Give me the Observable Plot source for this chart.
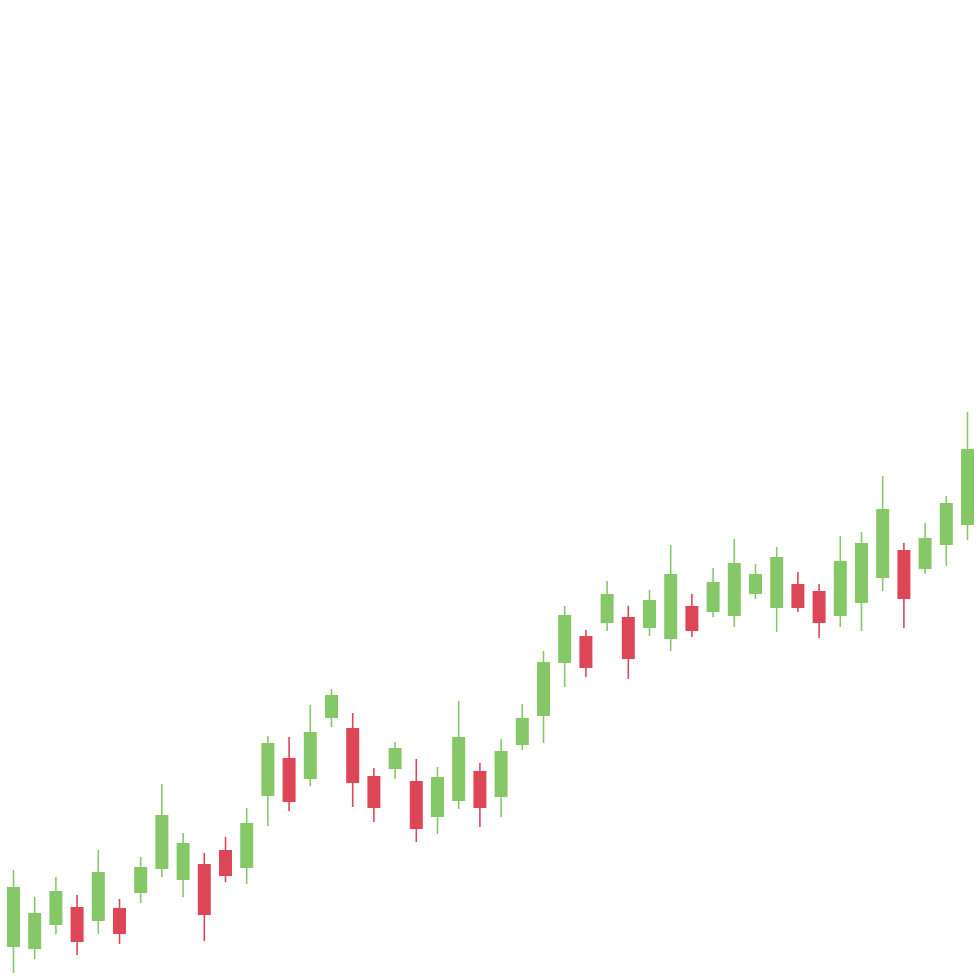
<!DOCTYPE html>
<html>
<head>
<meta charset="utf-8">
<script src="https://cdn.jsdelivr.net/npm/d3@7"></script>
<script src="https://cdn.jsdelivr.net/npm/@observablehq/plot@0.6"></script>
<style>
  html, body { margin: 0; padding: 0; background: #ffffff; }
  #chart { width: 980px; height: 980px; }
</style>
</head>
<body>
<div id="chart"></div>
<script>
const openValues  = [33,31,55,73,59,72,87,111,100,116,130,112,184,222,201,262,252,204,211,199,163,179,209,183,235,264,317,344,357,363,352,341,374,368,364,386,372,396,389,364,377,402,430,411,435,455];
const closeValues = [93,67,89,38,108,46,113,165,137,65,104,157,237,178,248,285,197,172,232,151,203,243,172,229,262,318,365,312,386,321,380,406,349,398,417,406,423,372,357,419,437,471,381,442,477,531];
const highValues  = [110,83,103,85,130,81,123,196,147,127,143,172,244,243,275,291,267,212,238,221,213,279,217,241,276,329,374,350,399,374,390,435,386,412,441,416,433,408,396,444,448,504,437,457,484,568];
const lowValues   = [7,21,46,25,46,36,77,103,83,39,98,96,154,169,194,253,173,158,201,138,146,171,153,163,230,237,293,303,349,301,344,329,343,363,353,381,348,368,342,353,349,389,352,406,414,440];

const data = openValues.map((o, i) => ({
  i,
  open: o,
  close: closeValues[i],
  high: highValues[i],
  low: lowValues[i],
  up: closeValues[i] >= o
}));

const GREEN = "#86c868";
const RED = "#dc4657";

const chart = Plot.plot({
  width: 980,
  height: 980,
  marginLeft: 13,
  marginRight: 13,
  marginTop: 0,
  marginBottom: 0,
  x: { type: "linear", domain: [0, data.length - 1], axis: null },
  y: { domain: [0, 980], axis: null },
  marks: [
    Plot.ruleX(data, {
      x: "i", y1: "low", y2: "high",
      stroke: d => d.up ? GREEN : RED,
      strokeWidth: 1.6
    }),
    Plot.ruleX(data, {
      x: "i", y1: "open", y2: "close",
      stroke: d => d.up ? GREEN : RED,
      strokeWidth: 13
    })
  ]
});
document.getElementById("chart").appendChild(chart);
</script>
</body>
</html>
